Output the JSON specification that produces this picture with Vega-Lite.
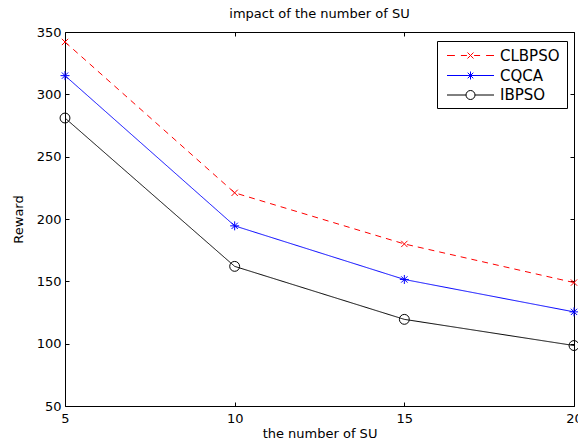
{
  "$schema": "https://vega.github.io/schema/vega-lite/v6.json",
  "width": 509,
  "height": 374,
  "autosize": {"type": "none"},
  "padding": {"left": 65, "top": 32, "right": 4, "bottom": 39},
  "background": "white",
  "title": {"text": "impact of the number of SU", "font": "DejaVu Sans", "fontSize": 13, "fontWeight": "normal", "color": "black", "anchor": "middle", "baseline": "alphabetic", "frame": "group", "offset": 12, "dy": 17},
  "config": {"view": {"stroke": "black", "strokeWidth": 1}, "font": "DejaVu Sans"},
  "data": {"values": [
    {"n": 5, "reward": 342, "series": "CLBPSO"},
    {"n": 10, "reward": 221, "series": "CLBPSO"},
    {"n": 15, "reward": 180, "series": "CLBPSO"},
    {"n": 20, "reward": 149, "series": "CLBPSO"},
    {"n": 5, "reward": 315, "series": "CQCA"},
    {"n": 10, "reward": 194.5, "series": "CQCA"},
    {"n": 15, "reward": 151.5, "series": "CQCA"},
    {"n": 20, "reward": 125.5, "series": "CQCA"},
    {"n": 5, "reward": 281, "series": "IBPSO"},
    {"n": 10, "reward": 162, "series": "IBPSO"},
    {"n": 15, "reward": 119.5, "series": "IBPSO"},
    {"n": 20, "reward": 98.5, "series": "IBPSO"}
  ]},
  "resolve": {"axis": {"x": "independent", "y": "independent"}, "scale": {"color": "independent"}, "legend": {"color": "independent"}},
  "layer": [
    {
      "mark": {"type": "line", "strokeWidth": 1},
      "encoding": {
        "x": {"field": "n", "type": "quantitative", "scale": {"domain": [5, 20], "nice": false, "zero": false},
          "axis": {"orient": "bottom", "title": "the number of SU", "values": [5, 10, 15, 20], "tickSize": -4, "labelPadding": 10, "domain": false, "grid": false,
            "labelFont": "DejaVu Sans", "labelFontSize": 13, "labelColor": "black", "labelFlush": false, "labelOverlap": false, "tickColor": "black",
            "titleFont": "DejaVu Sans", "titleFontSize": 13, "titleFontWeight": "normal", "titleColor": "black", "titlePadding": 2}},
        "y": {"field": "reward", "type": "quantitative", "scale": {"domain": [50, 350], "nice": false, "zero": false},
          "axis": {"orient": "left", "title": "Reward", "values": [50, 100, 150, 200, 250, 300, 350], "tickSize": -4, "labelPadding": 8, "domain": false, "grid": false,
            "labelFont": "DejaVu Sans", "labelFontSize": 13, "labelColor": "black", "labelFlush": false, "labelOverlap": false, "tickColor": "black",
            "titleFont": "DejaVu Sans", "titleFontSize": 13, "titleFontWeight": "normal", "titleColor": "black", "titlePadding": 11}},
        "color": {"field": "series", "type": "nominal",
          "scale": {"domain": ["CLBPSO", "CQCA", "IBPSO"], "range": ["#ff0000", "#0000ff", "#000000"]},
          "legend": {"orient": "none", "legendX": 372, "legendY": 9, "title": null, "padding": 7,
            "strokeColor": "black", "fillColor": "transparent", "labelFont": "DejaVu Sans", "labelFontSize": 15, "labelColor": "transparent",
            "labelExpr": "datum.label + ' '", "symbolType": "M-5.875,0H5.875", "symbolOpacity": 0,
            "symbolSize": 64, "symbolStrokeWidth": 1, "rowPadding": 2.5, "symbolOffset": 19, "labelOffset": 22}
        },
        "strokeDash": {"field": "series", "type": "nominal", "scale": {"domain": ["CLBPSO", "CQCA", "IBPSO"], "range": [[6, 5], [1, 0], [1, 0]]}, "legend": null}
      }
    },
    {
      "transform": [{"filter": "datum.series === 'CLBPSO'"}],
      "mark": {"type": "point", "filled": false, "strokeWidth": 1, "size": 81, "opacity": 1, "shape": "M-0.7,-0.7L0.7,0.7M-0.7,0.7L0.7,-0.7"},
      "encoding": {
        "x": {"field": "n", "type": "quantitative", "scale": {"domain": [5, 20], "nice": false, "zero": false},
          "axis": {"orient": "top", "title": null, "values": [5, 10, 15, 20], "tickSize": -4, "labels": false, "domain": false, "grid": false, "tickColor": "black"}},
        "y": {"field": "reward", "type": "quantitative", "scale": {"domain": [50, 350], "nice": false, "zero": false},
          "axis": {"orient": "right", "title": null, "values": [50, 100, 150, 200, 250, 300, 350], "tickSize": -4, "labels": false, "domain": false, "grid": false, "tickColor": "black"}},
        "color": {"field": "series", "type": "nominal",
          "scale": {"domain": ["CLBPSO"], "range": ["#ff0000"]},
          "legend": {"orient": "none", "legendX": 372, "legendY": 9, "title": null, "padding": 7,
            "strokeColor": "transparent", "fillColor": "transparent", "labelFont": "DejaVu Sans", "labelFontSize": 15, "labelColor": "black",
            "symbolType": "M-5.875,0H-3.9M-2.4,0H-0.9M0.9,0H2.4M3.9,0H5.875M-0.75,-0.75L0.75,0.75M-0.75,0.75L0.75,-0.75",
            "symbolSize": 64, "symbolStrokeWidth": 1, "symbolStrokeColor": "#ff0000", "symbolFillColor": "transparent", "symbolOffset": 19, "labelOffset": 22}
        }
      }
    },
    {
      "transform": [{"filter": "datum.series === 'CQCA'"}],
      "mark": {"type": "point", "filled": false, "strokeWidth": 1, "size": 81, "opacity": 1, "shape": "M-1,0H1M0,-1V1M-0.7,-0.7L0.7,0.7M-0.7,0.7L0.7,-0.7"},
      "encoding": {
        "x": {"field": "n", "type": "quantitative", "axis": null},
        "y": {"field": "reward", "type": "quantitative", "axis": null},
        "color": {"field": "series", "type": "nominal",
          "scale": {"domain": ["CQCA"], "range": ["#0000ff"]},
          "legend": {"orient": "none", "legendX": 372, "legendY": 29, "title": null, "padding": 7,
            "strokeColor": "transparent", "fillColor": "transparent", "labelFont": "DejaVu Sans", "labelFontSize": 15, "labelColor": "black",
            "symbolType": "M-5.875,0H5.875M-1,0H1M0,-1V1M-0.7,-0.7L0.7,0.7M-0.7,0.7L0.7,-0.7",
            "symbolSize": 64, "symbolStrokeWidth": 1, "symbolStrokeColor": "#0000ff", "symbolFillColor": "transparent", "symbolOffset": 19, "labelOffset": 22}
        }
      }
    },
    {
      "transform": [{"filter": "datum.series === 'IBPSO'"}],
      "mark": {"type": "point", "filled": false, "strokeWidth": 1, "size": 81, "opacity": 1, "shape": "M-1.1,0A1.1,1.1 0 1,0 1.1,0A1.1,1.1 0 1,0 -1.1,0"},
      "encoding": {
        "x": {"field": "n", "type": "quantitative", "axis": null},
        "y": {"field": "reward", "type": "quantitative", "axis": null},
        "color": {"field": "series", "type": "nominal",
          "scale": {"domain": ["IBPSO"], "range": ["#000000"]},
          "legend": {"orient": "none", "legendX": 372, "legendY": 48.5, "title": null, "padding": 7,
            "strokeColor": "transparent", "fillColor": "transparent", "labelFont": "DejaVu Sans", "labelFontSize": 15, "labelColor": "black",
            "symbolType": "M-5.875,0H-1.125M1.125,0H5.875M-1.125,0A1.125,1.125 0 1,0 1.125,0A1.125,1.125 0 1,0 -1.125,0",
            "symbolSize": 64, "symbolStrokeWidth": 1, "symbolStrokeColor": "#000000", "symbolFillColor": "transparent", "symbolOffset": 19, "labelOffset": 22}
        }
      }
    }
  ]
}
